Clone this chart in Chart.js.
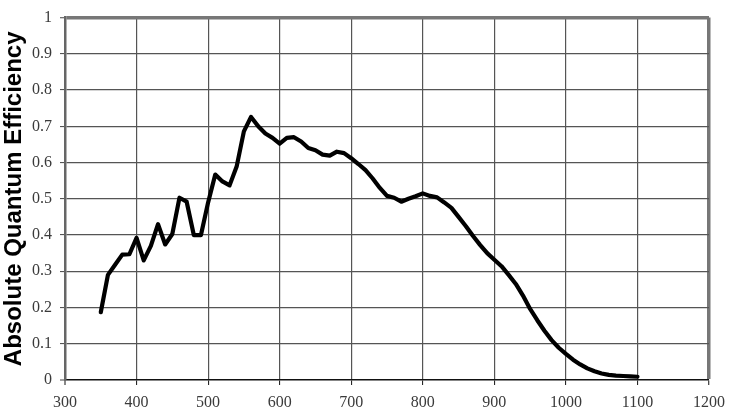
<!DOCTYPE html>
<html>
<head>
<meta charset="utf-8">
<script src="https://cdn.jsdelivr.net/npm/chart.js@4"></script>
<style>
  html, body { margin: 0; padding: 0; background: #fff; }
  #wrap { width: 733px; height: 409px; }
</style>
</head>
<body>
<div id="wrap"><canvas id="qe"></canvas></div>
<script>
// wavelength (nm) and efficiency
const wavelengths = [350, 360, 370, 380, 390, 400, 410, 420, 430, 440, 450, 460, 470, 480, 490,
  500, 510, 520, 530, 540, 550, 560, 570, 580, 590, 600, 610, 620, 630, 640, 650, 660, 670, 680, 690,
  700, 710, 720, 730, 740, 750, 760, 770, 780, 790, 800, 810, 820, 830, 840, 850, 860, 870, 880, 890,
  900, 910, 920, 930, 940, 950, 960, 970, 980, 990, 1000, 1010, 1020, 1030, 1040, 1050, 1060, 1070,
  1080, 1090, 1100];
const efficiency = [0.187, 0.29, 0.318, 0.346, 0.347, 0.392, 0.33, 0.37, 0.43, 0.374, 0.403, 0.503, 0.492, 0.40, 0.40,
  0.49, 0.567, 0.548, 0.537, 0.59, 0.686, 0.726, 0.70, 0.68, 0.668, 0.652, 0.668, 0.670, 0.658, 0.640, 0.634, 0.622, 0.619, 0.630, 0.626,
  0.612, 0.596, 0.579, 0.556, 0.53, 0.508, 0.503, 0.492, 0.500, 0.507, 0.515, 0.508, 0.504, 0.490, 0.475, 0.450, 0.425, 0.398, 0.373, 0.350,
  0.332, 0.314, 0.290, 0.265, 0.233, 0.196, 0.165, 0.136, 0.110, 0.089, 0.072, 0.056, 0.043, 0.032, 0.024, 0.018, 0.014, 0.012,
  0.011, 0.010, 0.009];

const xTicks = [300, 400, 500, 600, 700, 800, 900, 1000, 1100, 1200];
const yTicks = [0, 0.1, 0.2, 0.3, 0.4, 0.5, 0.6, 0.7, 0.8, 0.9, 1];
const yTitle = 'Absolute Quantum Efficiency';

const points = wavelengths.map((w, i) => ({ x: w, y: efficiency[i] }));
const tickFont = { family: '"Liberation Serif", "DejaVu Serif", serif', size: 16 };

new Chart(document.getElementById('qe'), {
  type: 'line',
  data: {
    datasets: [{
      data: points,
      borderColor: '#000',
      borderWidth: 4.2,
      pointRadius: 0,
      tension: 0,
      borderJoinStyle: 'round',
      borderCapStyle: 'round'
    }]
  },
  options: {
    responsive: true,
    maintainAspectRatio: false,
    animation: false,
    layout: { padding: { top: 6, right: 15, left: 0, bottom: 0 } },
    plugins: { legend: { display: false }, tooltip: { enabled: false } },
    scales: {
      x: {
        type: 'linear',
        min: xTicks[0],
        max: xTicks[xTicks.length - 1],
        afterBuildTicks: s => { s.ticks = xTicks.map(v => ({ value: v })); },
        afterFit: s => { s.height = 29; },
        border: { color: '#111', width: 1.5 },
        grid: {
          color: c => c.tick && c.tick.value === 1200 ? '#777' : '#555',
          lineWidth: c => c.tick && c.tick.value === 1200 ? 3.5 : (c.tick && c.tick.value === 300 ? 0 : 1.2),
          tickLength: 5,
          tickColor: '#111',
          tickWidth: 1
        },
        ticks: {
          padding: 8,
          maxRotation: 0,
          color: '#3a3a3a',
          font: tickFont,
          callback: v => String(v)
        }
      },
      y: {
        min: 0,
        max: 1,
        afterBuildTicks: s => { s.ticks = yTicks.map(v => ({ value: v })); },
        afterFit: s => { s.width = 65; },
        border: { color: '#666', width: 2.5 },
        grid: {
          color: c => c.tick && c.tick.value === 1 ? '#777' : '#555',
          lineWidth: c => c.tick && c.tick.value === 1 ? 3.5 : (c.tick && c.tick.value === 0 ? 0 : 1.2),
          tickLength: 5,
          tickColor: '#444',
          tickWidth: 1
        },
        ticks: {
          padding: 8,
          color: '#3a3a3a',
          font: tickFont,
          callback: v => String(v)
        },
        title: {
          display: true,
          text: yTitle,
          color: '#000',
          padding: { top: 0, bottom: 0 },
          font: { family: '"Liberation Sans", Arial, sans-serif', size: 24, weight: 'bold' }
        }
      }
    }
  }
});
</script>
</body>
</html>
